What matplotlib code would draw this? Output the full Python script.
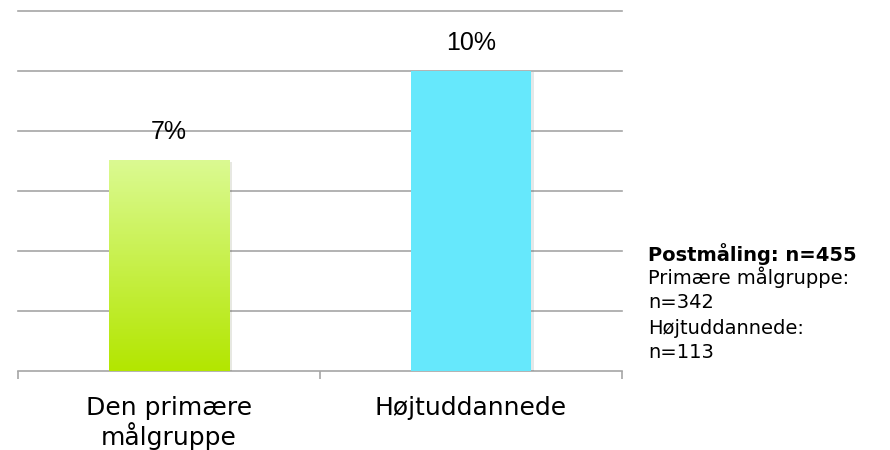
import numpy as np
import matplotlib.pyplot as plt
import matplotlib.patheffects as pe
from matplotlib.colors import LinearSegmentedColormap

# Data
categories = ['Den primære\nmålgruppe', 'Højtuddannede']
values = [7, 10]
value_labels = ['7%', '10%']
note_title = 'Postmåling: n=455'
note_lines = ['Primære målgruppe:', 'n=342', 'Højtuddannede:', 'n=113']

grid_color = '#a6a6a6'

fig = plt.figure(figsize=(8.9, 4.5), dpi=100)
ax = fig.add_axes([18 / 890, 1 - 371 / 450, 604 / 890, 360 / 450])

x = np.arange(len(categories))
bars = ax.bar(x, values, width=0.4, color=['#c6ef3a', '#66e8fc'], zorder=3,
              path_effects=[pe.SimplePatchShadow(offset=(2, -1), alpha=0.12), pe.Normal()])

# vertical gradient on the first bar
green = LinearSegmentedColormap.from_list('green', ['#b3e600', '#dbfa92'])
b = bars[0]
grad = np.linspace(0, 1, 256).reshape(-1, 1)
ax.imshow(grad, cmap=green, origin='lower', aspect='auto', zorder=4,
          extent=[b.get_x(), b.get_x() + b.get_width(), 0, b.get_height()])

for bar, lab in zip(bars, value_labels):
    ax.text(bar.get_x() + bar.get_width() / 2, bar.get_height() + 0.95, lab,
            ha='center', va='center', fontsize=18, family='Liberation Sans', zorder=5)

ax.set_xlim(-0.5, 1.5)
ax.set_ylim(0, 12)
ax.set_yticks(np.arange(2, 13, 2))
ax.yaxis.grid(True, color=grid_color, linewidth=1.2, zorder=0)
for gl in ax.get_ygridlines():
    gl.set_clip_on(False)
ax.tick_params(axis='y', length=0, labelleft=False)

ax.set_xticks(x)
ax.set_xticklabels(categories, fontsize=18, linespacing=1.08)
ax.set_xticks([-0.5, 0.5, 1.5], minor=True)
ax.tick_params(axis='x', which='major', length=0, pad=18)
ax.tick_params(axis='x', which='minor', length=6, color=grid_color, width=1.2)

for side in ['left', 'right', 'top']:
    ax.spines[side].set_visible(False)
ax.spines['bottom'].set_color(grid_color)
ax.spines['bottom'].set_linewidth(1.2)

# sample size note on the right
fig.text(648 / 890, 1 - 254 / 450, note_title, fontsize=14, fontweight='bold',
         va='center', ha='left')
fig.text(648 / 890, 1 - 266 / 450, '\n'.join(note_lines), fontsize=14,
         va='top', ha='left', linespacing=1.4)

fig.savefig('out.png', dpi=100)
